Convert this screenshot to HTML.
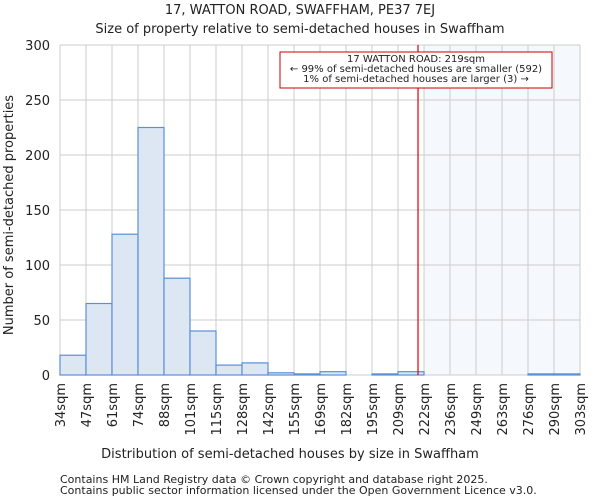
<!DOCTYPE html>
<html><head><meta charset="utf-8"><style>
body{margin:0;background:#fff;font-family:"DejaVu Sans","Liberation Sans",sans-serif;}
svg text{font-family:"DejaVu Sans","Liberation Sans",sans-serif;fill:#222;}
</style></head><body>
<svg id="c" width="600" height="500"></svg>
<script>
const edges=["34sqm","47sqm","61sqm","74sqm","88sqm","101sqm","115sqm","128sqm","142sqm","155sqm","169sqm","182sqm","195sqm","209sqm","222sqm","236sqm","249sqm","263sqm","276sqm","290sqm","303sqm"];
const counts=[18,65,128,225,88,40,9,11,2,1,3,0,1,3,0,0,0,0,1,1];
const yTicks=[0,50,100,150,200,250,300];
const markerBin=14;
const markerPos=13.77;
const NS="http://www.w3.org/2000/svg";
const svg=document.getElementById('c');
const L=60,R=580,T=45,B=375,yMax=300;
const bw=(R-L)/counts.length;
const xs=i=>L+i*bw;
const ys=v=>B-v/yMax*(B-T);
function mk(t,a,p){const e=document.createElementNS(NS,t);for(const k in a)e.setAttribute(k,a[k]);(p||svg).appendChild(e);return e;}
let e;
e=mk('rect',{x:xs(markerBin),y:T,width:R-xs(markerBin),height:B-T,fill:'#f2f6fd',opacity:0.8});


for(let i=0;i<edges.length;i++){
 e=mk('line',{x1:xs(i),x2:xs(i),y1:T,y2:B,stroke:'#ccc','stroke-width':1});
 
 
}
yTicks.forEach(v=>{
 e=mk('line',{x1:L,x2:R,y1:ys(v),y2:ys(v),stroke:'#ccc','stroke-width':1});
 
 
 e=mk('text',{x:L-10,y:ys(v)+5,'text-anchor':'end','font-size':13});
 e.textContent=v;
 
 
});
counts.forEach((v,i)=>{
 if(v<=0)return;
 e=mk('rect',{x:xs(i),y:ys(v),width:bw,height:B-ys(v),fill:'#dde7f4',stroke:'#5b8fd6','stroke-width':1.2});
 
 
});
edges.forEach((t,i)=>{
 e=mk('text',{transform:`translate(${xs(i)+5},${B+8}) rotate(-90)`,'text-anchor':'end','font-size':13});
 e.textContent=t;
 
 
});
e=mk('line',{x1:xs(markerPos),x2:xs(markerPos),y1:T,y2:B,stroke:'#d00','stroke-width':1.2});


const g=mk('g',{});


mk('rect',{x:280,y:52,width:272,height:36,fill:'#fff',stroke:'#c00','stroke-width':1},g);
["17 WATTON ROAD: 219sqm","← 99% of semi-detached houses are smaller (592)","1% of semi-detached houses are larger (3) →"].forEach((s,k)=>{
 const t=mk('text',{x:416,y:62+k*10,'text-anchor':'middle','font-size':10},g);t.textContent=s;
});
</script>
<svg style="position:absolute;left:0;top:0" width="600" height="500">
<text x="300" y="14" text-anchor="middle" font-size="13">17, WATTON ROAD, SWAFFHAM, PE37 7EJ</text>
<text x="300" y="33" text-anchor="middle" font-size="13">Size of property relative to semi-detached houses in Swaffham</text>
<text x="290" y="458" text-anchor="middle" font-size="13">Distribution of semi-detached houses by size in Swaffham</text>
<text transform="translate(13,215) rotate(-90)" text-anchor="middle" font-size="13">Number of semi-detached properties</text>
<text x="60" y="483" font-size="11" fill="#444">Contains HM Land Registry data © Crown copyright and database right 2025.</text>
<text x="60" y="494" font-size="11" fill="#444">Contains public sector information licensed under the Open Government Licence v3.0.</text>
</svg>
</body></html>
